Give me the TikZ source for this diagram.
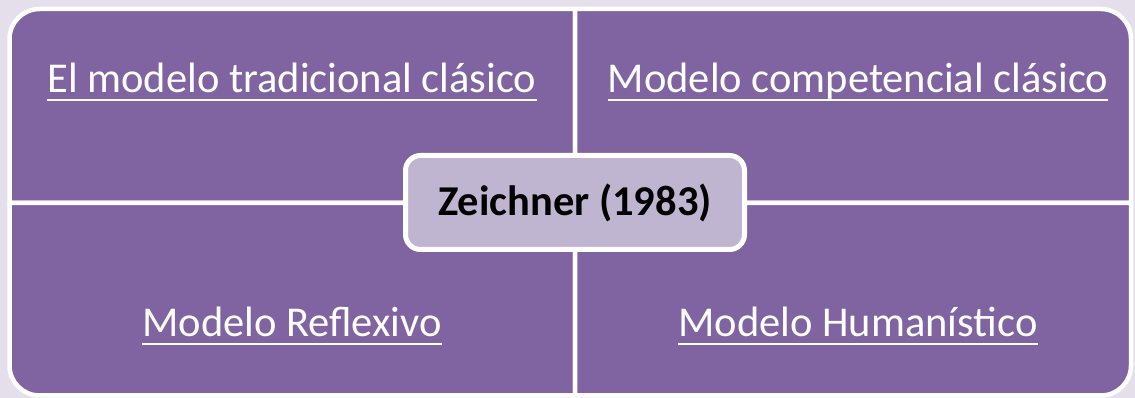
\documentclass[tikz,border=0pt]{standalone}
\usepackage{fontspec}
\setmainfont{Carlito}
\definecolor{bgc}{HTML}{E5DFEC}
\definecolor{quad}{HTML}{8064A2}
\definecolor{ctr}{HTML}{C0B5D1}
\tikzset{
  quadtext/.style={text=white, inner sep=0pt, anchor=base, font=\fontsize{42.5}{46}\selectfont},
  quadbox/.style={fill=quad, draw=white, line width=4.5pt, line join=round},
  uline/.style={draw=white, line width=2.5pt},
  ctrbox/.style={fill=ctr, draw=white, line width=5pt, rounded corners=15pt, minimum width=339pt, minimum height=94pt, inner sep=0pt, font=\bfseries\fontsize{42.5}{46}\selectfont}
}
\begin{document}
\begin{tikzpicture}[x=1pt,y=1pt]
\useasboundingbox (0,0) rectangle (1135,398);
\fill[bgc] (0,0) rectangle (1135,398);
% quadrants
\path[quadbox] (9.5,195) [rounded corners=30pt] -- (9.5,389) [sharp corners] -- (575,389) -- (575,195) -- cycle;
\path[quadbox] (575,389) [rounded corners=30pt] -- (1131,389) [sharp corners] -- (1131,195) -- (575,195) -- cycle;
\path[quadbox] (9.5,195) [rounded corners=30pt] -- (9.5,2.5) [sharp corners] -- (575,2.5) -- (575,195) -- cycle;
\path[quadbox] (575,2.5) [rounded corners=30pt] -- (1131,2.5) [sharp corners] -- (1131,195) -- (575,195) -- cycle;
% texts
\node[quadtext] (tl) at (292,305) {El modelo tradicional clásico};
\node[quadtext] (tr) at (858,305) {Modelo competencial clásico};
\node[quadtext] (bl) at (292,61) {Modelo Reflexivo};
\node[quadtext] (br) at (858,61) {Modelo Humanístico};
\foreach \n in {tl,tr,bl,br}{
  \draw[uline] ([yshift=-7pt]\n.base west) -- ([yshift=-7pt]\n.base east);
}
% centre
\node[ctrbox] (c) at (575,195.5) {Zeichner (1983)};
\end{tikzpicture}
\end{document}
